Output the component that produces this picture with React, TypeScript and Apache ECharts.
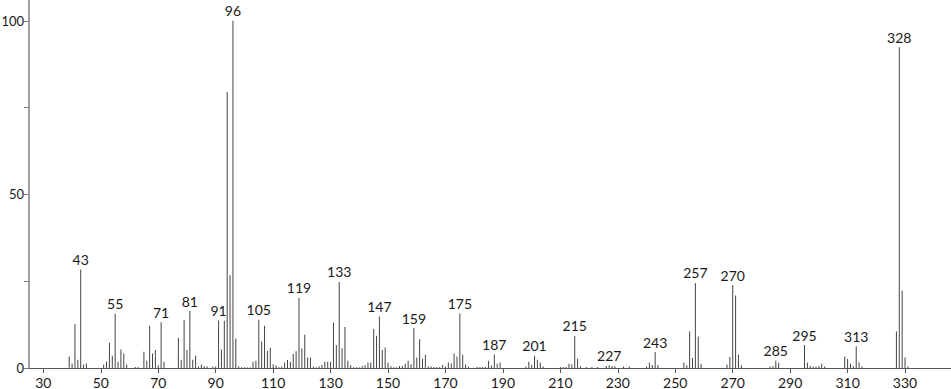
import React, { useEffect, useRef } from "react";
import * as echarts from "echarts";

const mzValues = [
  39, 40, 41, 42, 43, 44, 45, 51, 52, 53, 54, 55, 56, 57, 58, 59, 62, 63, 65, 66, 67, 68, 69, 70, 71, 72,
  77, 78, 79, 80, 81, 82, 83, 84, 85, 86, 87, 89, 90, 91, 92, 93, 94, 95, 96, 97, 98, 99, 100, 101, 102,
  103, 104, 105, 106, 107, 108, 109, 110, 111, 112, 113, 114, 115, 116, 117, 118, 119, 120, 121, 122, 123,
  124, 125, 126, 127, 128, 129, 130, 131, 132, 133, 134, 135, 136, 137, 138, 139, 140, 141, 142, 143, 144,
  145, 146, 147, 148, 149, 150, 151, 152, 153, 154, 155, 156, 157, 158, 159, 160, 161, 162, 163, 164, 165,
  166, 167, 168, 169, 170, 171, 172, 173, 174, 175, 176, 177, 178, 181, 182, 183, 184, 185, 186, 187, 188,
  189, 198, 199, 200, 201, 202, 203, 204, 210, 211, 212, 213, 214, 215, 216, 217, 219, 221, 223, 226, 227,
  228, 229, 232, 234, 240, 241, 242, 243, 244, 253, 254, 255, 256, 257, 258, 259, 268, 269, 270, 271, 272,
  273, 283, 284, 285, 286, 295, 296, 297, 298, 299, 300, 301, 302, 309, 310, 311, 312, 313, 314, 315, 327,
  328, 329, 330, 331,
];

const intensities = [
  3.3, 1.3, 12.7, 2.4, 28.4, 1.0, 1.3, 1.0, 1.9, 7.3, 3.5, 15.6, 1.8, 5.3, 4.2, 1.0, 0.3, 0.3, 4.7, 2.1, 12.2, 4.2, 5.2, 0.8, 13.2, 1.8,
  8.7, 2.4, 13.9, 5.2, 16.4, 2.4, 3.5, 0.4, 1.0, 0.5, 0.4, 0.4, 0.4, 13.7, 5.3, 13.6, 79.5, 26.7, 100, 8.5, 0.5, 0.2, 0.2, 0.2, 0.2,
  1.8, 2.1, 13.9, 7.6, 12.2, 5.0, 5.8, 1.1, 0.7, 0.3, 0.4, 1.6, 2.3, 1.8, 4.0, 4.8, 20.2, 5.6, 9.6, 3.0, 3.0,
  0.4, 0.2, 0.5, 0.9, 1.8, 1.8, 1.8, 13.0, 6.6, 24.8, 5.7, 11.8, 2.1, 0.8, 0.2, 0.2, 0.2, 0.6, 0.8, 1.6, 1.6,
  11.2, 9.3, 14.8, 5.2, 5.9, 1.5, 0.5, 0.2, 0.2, 0.6, 0.6, 1.2, 2.1, 1.1, 11.5, 3.0, 8.3, 2.7, 3.8, 0.4, 0.4,
  0.3, 0.3, 0.3, 0.9, 0.4, 1.6, 1.3, 4.2, 3.3, 15.7, 3.8, 1.0, 0.4, 0.3, 0.3, 0.3, 0.3, 2.1, 0.7, 3.9, 1.2,
  1.6, 0.4, 1.8, 0.9, 3.5, 2.4, 1.6, 0.4, 0.3, 0.3, 0.3, 1.2, 1.0, 9.3, 2.7, 0.5, 0.3, 0.3, 0.3, 0.6, 0.8,
  0.6, 0.4, 0.4, 0.4, 0.4, 1.6, 0.9, 4.6, 0.9, 1.6, 0.8, 10.5, 2.9, 24.5, 9.1, 1.2, 1.0, 3.2, 23.8, 20.9, 3.8,
  0.8, 0.4, 0.6, 2.1, 1.5, 6.6, 1.6, 0.6, 0.4, 0.4, 0.6, 1.2, 0.4, 3.3, 2.6, 1.2, 0.6, 6.3, 1.6, 0.4, 10.5,
  92.4, 22.3, 3.0, 0.4,
];

const labeledPeaks = [43, 55, 71, 81, 91, 96, 105, 119, 133, 147, 159, 175, 187, 201, 215, 227, 243, 257, 270, 285, 295, 313, 328];

const xTickValues = [30, 50, 70, 90, 110, 130, 150, 170, 190, 210, 230, 250, 270, 290, 310, 330];
const yTickValues = [0, 25, 50, 75, 100];
const yLabelValues = [0, 50, 100];

const FONT = "Lato, 'DejaVu Sans', sans-serif";

export default function App() {
  const ref = useRef<HTMLDivElement>(null);

  useEffect(() => {
    if (!ref.current) return;
    const chart = echarts.init(ref.current, undefined, { renderer: "svg" });

    const data = mzValues.map((mz, i) => {
      const item: any = { value: [mz, intensities[i]] };
      if (labeledPeaks.includes(mz)) {
        item.label = {
          show: true,
          position: "top",
          distance: 3,
          formatter: String(mz),
          color: "#1a1a1a",
          fontSize: 14,
          fontFamily: FONT,
        };
      }
      return item;
    });

    chart.setOption({
      animation: false,
      backgroundColor: "#ffffff",
      grid: {
        left: 29,
        right: 0,
        top: 0,
        bottom: 21,
        containLabel: false,
        outerBoundsMode: "none",
      },
      xAxis: {
        type: "value",
        min: 25,
        max: 346,
        splitLine: { show: false },
        axisLine: { show: true, onZero: false, lineStyle: { color: "#555555", width: 1 } },
        axisTick: {
          show: true,
          length: 5,
          customValues: xTickValues,
          lineStyle: { color: "#555555" },
        },
        axisLabel: {
          customValues: xTickValues,
          margin: 7,
          color: "#1a1a1a",
          fontSize: 14,
          fontFamily: FONT,
        },
      },
      yAxis: {
        type: "value",
        min: 0,
        max: 106,
        splitLine: { show: false },
        axisLine: { show: true, lineStyle: { color: "#a0a0a0", width: 2 } },
        axisTick: {
          show: true,
          length: 5,
          customValues: yTickValues,
          lineStyle: { color: "#777777" },
        },
        axisLabel: {
          customValues: yLabelValues,
          margin: 5,
          color: "#1a1a1a",
          fontSize: 13,
          fontFamily: FONT,
        },
      },
      series: [
        {
          type: "bar",
          barWidth: 1,
          itemStyle: { color: "#444444" },
          data,
        },
      ],
    });

    return () => chart.dispose();
  }, []);

  return (
    <div
      ref={ref}
      style={{ position: "fixed", left: 0, top: 0, width: 951, height: 389, background: "#fff" }}
    />
  );
}
